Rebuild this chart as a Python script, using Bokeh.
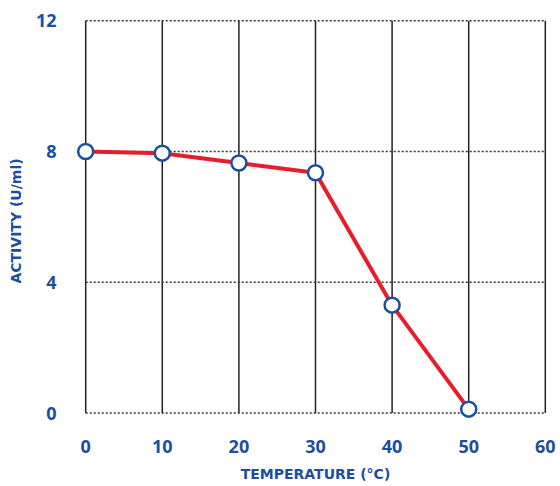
from bokeh.plotting import figure
from bokeh.models import ColumnDataSource, Range1d, FixedTicker
from bokeh.embed import file_html
from bokeh.resources import INLINE

temperature = [0, 10, 20, 30, 40, 50]
activity = [8.0, 7.95, 7.65, 7.35, 3.3, 0.12]
x_ticks = [0, 10, 20, 30, 40, 50, 60]
y_ticks = [0, 4, 8, 12]

BLUE = "#1c4f9c"
RED = "#e61e2b"
TICK_FONT = "Open Sans"
LABEL_FONT = "DejaVu Sans"

p = figure(width=560, height=486, output_backend="svg", toolbar_location=None,
           x_range=Range1d(-1.2, 61.2), y_range=Range1d(-0.35, 12.1),
           min_border_left=76, min_border_right=6, min_border_top=17, min_border_bottom=62)
p.outline_line_color = None
p.background_fill_color = "white"
p.border_fill_color = "white"
p.xgrid.visible = False
p.ygrid.visible = False

# grid lines built from tick arrays
p.segment(x0=x_ticks, x1=x_ticks, y0=[min(y_ticks)] * len(x_ticks), y1=[max(y_ticks)] * len(x_ticks),
          line_color="#222222", line_width=1.5)
p.segment(x0=[min(x_ticks)] * len(y_ticks), x1=[max(x_ticks)] * len(y_ticks), y0=y_ticks, y1=y_ticks,
          line_color="#333333", line_width=1.5, line_dash="2 2")

src = ColumnDataSource(dict(x=temperature, y=activity))
p.line("x", "y", source=src, line_color=RED, line_width=4)
p.scatter("x", "y", source=src, size=15, fill_color="white", line_color=BLUE, line_width=2.5)

for ax in (p.xaxis[0], p.yaxis[0]):
    ax.axis_line_color = None
    ax.major_tick_line_color = None
    ax.minor_tick_line_color = None
    ax.major_label_text_color = BLUE
    ax.major_label_text_font = TICK_FONT
    ax.major_label_text_font_style = "bold"
    ax.major_label_text_font_size = "18px"
    ax.axis_label_text_color = BLUE
    ax.axis_label_text_font = LABEL_FONT
    ax.axis_label_text_font_style = "bold"
    ax.axis_label_text_font_size = "14px"

p.xaxis.ticker = FixedTicker(ticks=x_ticks)
p.yaxis.ticker = FixedTicker(ticks=y_ticks)
p.xaxis.axis_label = "TEMPERATURE (°C)"
p.yaxis.axis_label = "ACTIVITY (U/ml)"
p.xaxis.major_label_standoff = 9
p.yaxis.major_label_standoff = 14
p.xaxis.axis_label_standoff = 10
p.yaxis.axis_label_standoff = 9

open("out.html", "w").write(file_html(p, INLINE))
